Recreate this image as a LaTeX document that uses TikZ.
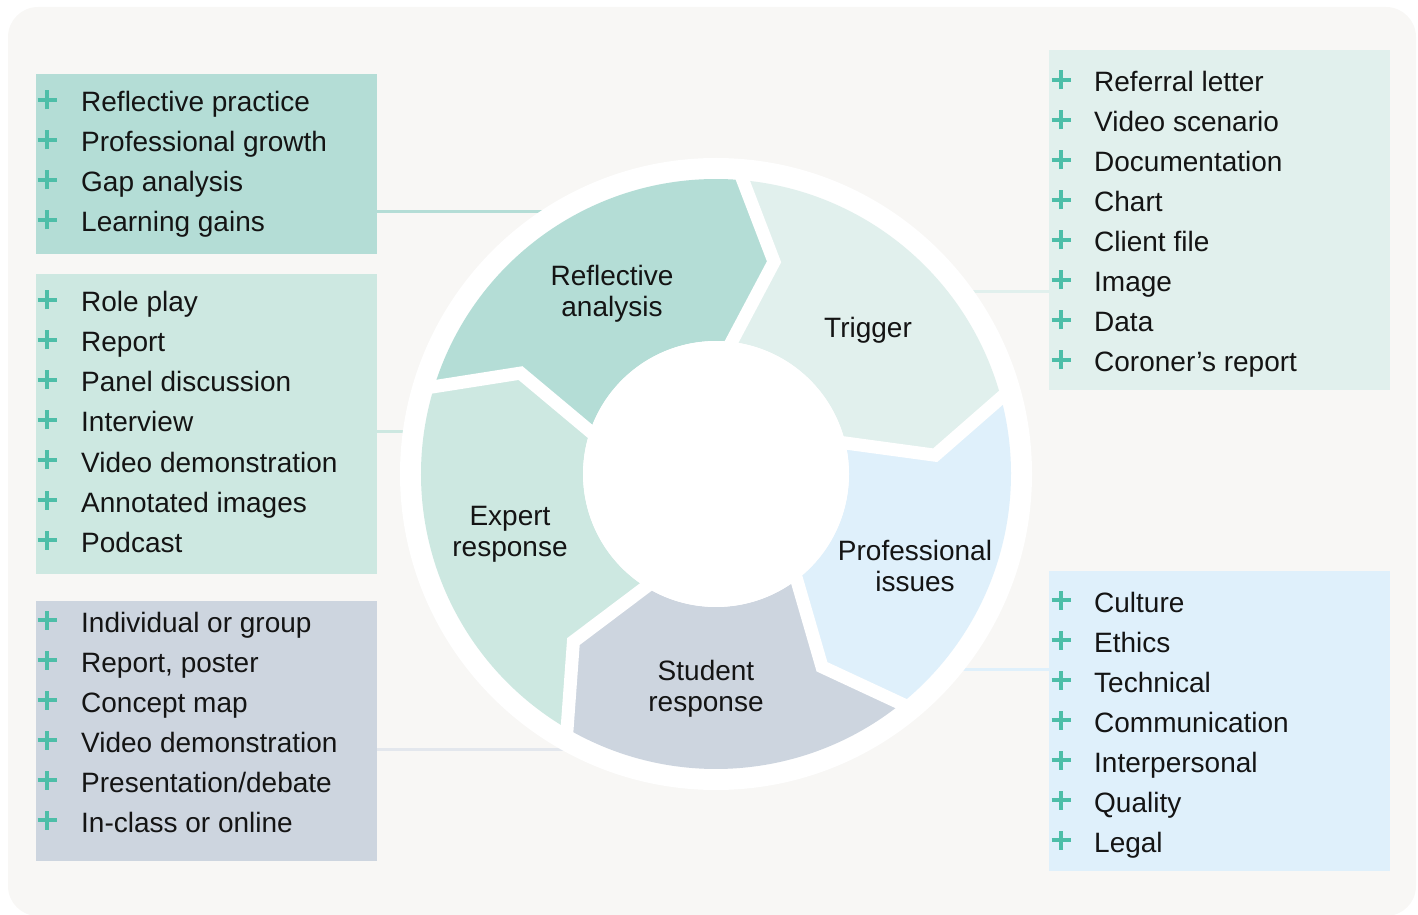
\documentclass[tikz,border=0pt]{standalone}
\usepackage{fontspec}
\setmainfont{Liberation Sans}

\definecolor{bgc}{HTML}{F8F7F5}
\definecolor{ink}{HTML}{141414}
\definecolor{plusc}{HTML}{4DBEA8}
\definecolor{reflc}{HTML}{B4DDD6}
\definecolor{expc}{HTML}{CDE8E1}
\definecolor{studc}{HTML}{CDD5DF}
\definecolor{trigc}{HTML}{E1F0ED}
\definecolor{profc}{HTML}{DFF0FB}
\definecolor{studline}{HTML}{E3E7ED}

% one chevron piece of the ring: colour, start angle, end angle
\newcommand\chevron[3]{%
  \fill[#1] (#2:295) arc[start angle=#2,end angle=#3,radius=295]
    -- ({#3-11}:220) -- (#3:133) arc[start angle=#3,end angle=#2,radius=133]
    -- ({#2-11}:220) -- cycle;}

\begin{document}
\begin{tikzpicture}[x=1pt,y=1pt,
  box/.style={anchor=south west,minimum width=341pt,inner sep=0pt},
  item/.style={anchor=base west,inner sep=0pt,text=ink,font=\fontsize{28}{31}\selectfont},
  seglabel/.style={align=center,inner sep=0pt,text=ink,font=\fontsize{28}{31}\selectfont},
  plussign/.style={draw=plusc,line width=3.4pt},
  link/.style={line width=3pt}]

 \useasboundingbox (0,0) rectangle (1418,914);
 \fill[bgc,rounded corners=30pt] (8,-2) rectangle (1416,907);

 % lists on the left
 \node[box,fill=reflc,minimum height=180pt] (reflbox) at (36,660) {};
 \node[box,fill=expc,minimum height=300pt] (expbox) at (36,340) {};
 \node[box,fill=studc,minimum height=260pt] (studbox) at (36,53) {};
 % lists on the right
 \node[box,fill=trigc,minimum height=340pt] (trigbox) at (1049,524) {};
 \node[box,fill=profc,minimum height=300pt] (profbox) at (1049,43) {};

 \foreach \t [count=\i] in {Reflective practice, Professional growth, Gap analysis, Learning gains} {
   \node[item] (refl-\i) at (81,842-40*\i) {\t};
   \draw[plussign] (37.5,854-40*\i) -- ++(19,0) (47,844.5-40*\i) -- ++(0,19);
 }
 \foreach \t [count=\i] in {Role play, Report, Panel discussion, Interview, Video demonstration, Annotated images, Podcast} {
   \node[item] (exp-\i) at (81,642-40*\i) {\t};
   \draw[plussign] (37.5,654-40*\i) -- ++(19,0) (47,644.5-40*\i) -- ++(0,19);
 }
 \foreach \t [count=\i] in {Individual or group, {Report, poster}, Concept map, Video demonstration, Presentation/debate, In-class or online} {
   \node[item] (stud-\i) at (81,322-40*\i) {\t};
   \draw[plussign] (37.5,334-40*\i) -- ++(19,0) (47,324.5-40*\i) -- ++(0,19);
 }
 \foreach \t [count=\i] in {Referral letter, Video scenario, Documentation, Chart, Client file, Image, Data, Coroner’s report} {
   \node[item] (trig-\i) at (1094,862-40*\i) {\t};
   \draw[plussign] (1051.5,874-40*\i) -- ++(19,0) (1061,864.5-40*\i) -- ++(0,19);
 }
 \foreach \t [count=\i] in {Culture, Ethics, Technical, Communication, Interpersonal, Quality, Legal} {
   \node[item] (prof-\i) at (1094,342-40*\i) {\t};
   \draw[plussign] (1051.5,354-40*\i) -- ++(19,0) (1061,344.5-40*\i) -- ++(0,19);
 }

 % leader lines, the ring covers their inner ends
 \coordinate (hub) at (716,440);
 \draw[link,reflc] (reflbox.east |- 0,702) -- (hub |- 0,702);
 \draw[link,expc] (expbox.east |- 0,482) -- (hub |- 0,482);
 \draw[link,studline] (studbox.east |- 0,165) -- (hub |- 0,165);
 \draw[link,trigc] (trigbox.west |- 0,622) -- (hub |- 0,622);
 \draw[link,profc] (profbox.west |- 0,245) -- (hub |- 0,245);

 % the cycle
 \begin{scope}[shift={(hub)}]
  \fill[white] (0,0) circle (316);
  \chevron{reflc}{163.7}{85.7}
  \chevron{trigc}{85.7}{15.9}
  \chevron{profc}{15.9}{-50.2}
  \chevron{studc}{-50.2}{-119.4}
  \chevron{expc}{-119.4}{-196.3}
  \foreach \b in {85.7,15.9,-50.2,-119.4,163.7}
    \draw[white,line width=13pt,line join=miter] (\b:305) -- ({\b-11}:220) -- (\b:120);
  \fill[white] (0,0) circle (133);
 \end{scope}

 \node[seglabel] (refl) at (612,620) {Reflective\\analysis};
 \node[seglabel] (trig) at (868,584) {Trigger};
 \node[seglabel] (prof) at (915,348) {Professional\\issues};
 \node[seglabel] (stud) at (706,225) {Student\\response};
 \node[seglabel] (exp) at (510,380) {Expert\\response};
\end{tikzpicture}
\end{document}
